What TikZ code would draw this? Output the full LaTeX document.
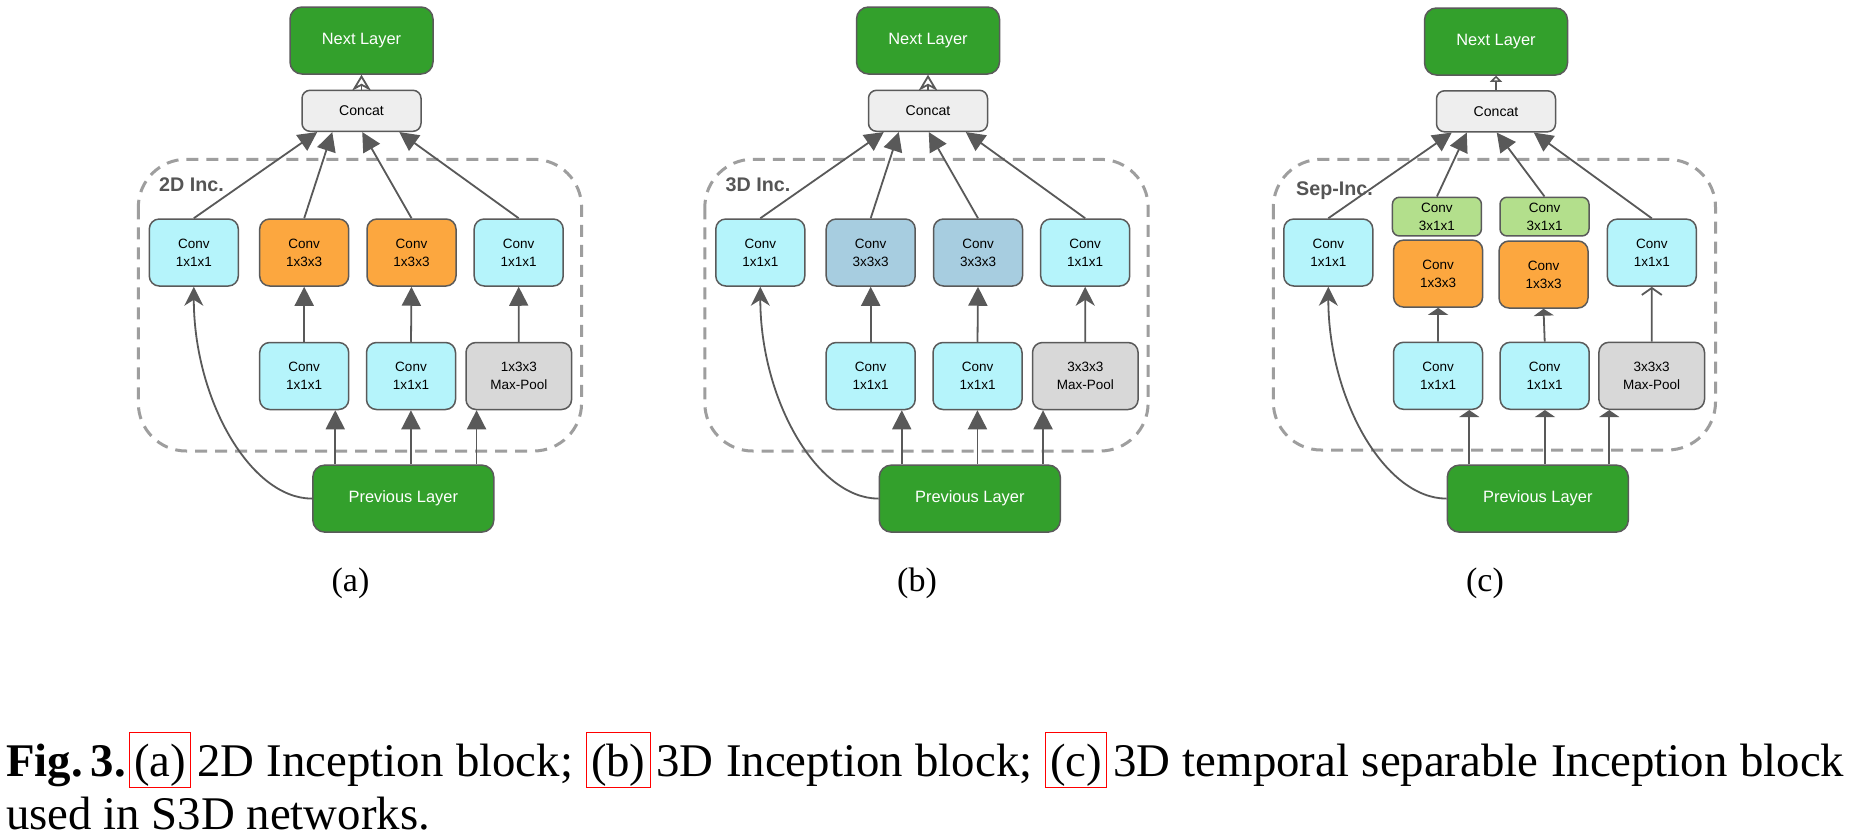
\documentclass[tikz,border=0pt]{standalone}
\usepackage{fontspec}
\setmainfont{Liberation Serif}
\newfontfamily\arialf{Liberation Sans}
\usetikzlibrary{arrows.meta,calc}
\definecolor{layergreen}{HTML}{33A02C}
\definecolor{edgegray}{HTML}{5A5A5A}
\definecolor{cyanfill}{HTML}{B5F4FB}
\definecolor{orangefill}{HTML}{FCA73F}
\definecolor{bluefill}{HTML}{A7CDE0}
\definecolor{limefill}{HTML}{B3DF8C}
\definecolor{poolfill}{HTML}{D8D8D8}
\definecolor{concatfill}{HTML}{EEEEEE}
\definecolor{dashgray}{HTML}{9E9E9E}
\definecolor{labelgray}{HTML}{555555}
\definecolor{arrowgray}{HTML}{595959}
\newcommand\redframe[1]{{\setlength{\fboxsep}{1pt}\setlength{\fboxrule}{1pt}\color{red}\fbox{\color{black}\kern3pt\rule[-9pt]{0pt}{51pt}#1\kern3pt}}}
\tikzset{
 blk/.style={draw=edgegray, line width=1.5pt, rounded corners=10pt, inner sep=0pt, minimum width=89pt, minimum height=67pt, align=center, font=\arialf\fontsize{13.5}{17.7}\selectfont},
 convc/.style={blk, fill=cyanfill},
 convo/.style={blk, fill=orangefill},
 convb/.style={blk, fill=bluefill},
 poolbox/.style={blk, fill=poolfill, minimum width=105.6pt},
 sepbox/.style={blk, fill=limefill, minimum height=38.7pt, rounded corners=7pt},
 layer/.style={draw=edgegray, line width=1.5pt, fill=layergreen, rounded corners=12pt, text=white, font=\arialf\fontsize{16.4}{20}\selectfont, minimum width=143pt, minimum height=67pt, inner sep=0pt},
 prevlayer/.style={layer, minimum width=181pt},
 concatbox/.style={draw=edgegray, line width=1.5pt, fill=concatfill, rounded corners=8pt, minimum width=119pt, minimum height=41pt, inner sep=0pt, font=\arialf\fontsize{14.1}{17}\selectfont},
 incframe/.style={draw=dashgray, line width=3pt, dash pattern=on 12pt off 8pt, rounded corners=48pt},
 inclabel/.style={anchor=base west, inner sep=0pt, text=labelgray, font=\arialf\bfseries\fontsize{19.7}{22}\selectfont},
 subcap/.style={anchor=base, inner sep=0pt, font=\fontsize{34}{40}\selectfont},
 link/.style={draw=arrowgray, line width=1.8pt},
 tri/.style={link, -{Triangle[length=19pt,width=19pt]}},
 stl/.style={link, -{Stealth[length=19pt,width=19pt,inset=6pt]}},
 opn/.style={link, -{Stealth[open,length=16pt,width=19pt,inset=5pt]}},
 flathead/.style={link, -{Triangle[length=7pt,width=20pt]}},
 barb/.style={link, -{Straight Barb[length=7pt,width=20pt]}},
 tinyopen/.style={link, -{Triangle[open,length=6pt,width=12pt]}},
 captext/.style={anchor=base west, inner sep=0pt, font=\fontsize{46.8}{56}\selectfont},
}
\begin{document}
\begin{tikzpicture}[x=1pt,y=-1pt]
\useasboundingbox (0,0) rectangle (1854,838);
\fill[white] (0,0) rectangle (1854,838);

% ---------------- panel (a)
\begin{scope}
\draw[incframe] (138.3,159.3) rectangle (581.6,451);
\node[layer] (aNext) at (361.5,40.5) {Next Layer};
\node[concatbox] (aCat) at (361.5,110.8) {Concat};
\node[inclabel] (aLab) at (159,191) {2D Inc.};
\node[convc] (a1) at (193.8,252.5) {Conv\\1x1x1};
\node[convo] (a2) at (304.2,252.5) {Conv\\1x3x3};
\node[convo] (a3) at (411.5,252.5) {Conv\\1x3x3};
\node[convc] (a4) at (518.7,252.5) {Conv\\1x1x1};
\node[convc] (a5) at (304.2,376) {Conv\\1x1x1};
\node[convc] (a6) at (411,376) {Conv\\1x1x1};
\node[poolbox] (a7) at (518.8,376) {1x3x3\\Max-Pool};
\node[prevlayer] (aPrev) at (403.3,498.6) {Previous Layer};
\node[subcap] (aSub) at (350.5,591) {(a)};
\draw[opn] (aCat.north) -- (aNext.south);
\draw[tri] (a1.north) -- ([xshift=16pt]aCat.south west);
\draw[tri] (a2.north) -- ([xshift=31pt]aCat.south west);
\draw[tri] (a3.north) -- ([xshift=61pt]aCat.south west);
\draw[tri] (a4.north) -- ([xshift=98pt]aCat.south west);
\draw[tri] (a5.north) -- (a2.south);
\draw[tri] (a6.north) -- (a3.south);
\draw[tri] (a7.north) -- (a4.south);
\coordinate (aP1) at ([xshift=23.2pt]aPrev.north west);
\coordinate (aP2) at ([xshift=98.9pt]aPrev.north west);
\coordinate (aP3) at ([xshift=164.5pt]aPrev.north west);
\draw[tri] (aP1) -- (aP1 |- a5.south);
\draw[tri] (aP2) -- (aP2 |- a6.south);
\draw[tri] (aP3) -- (aP3 |- a7.south);
\draw[stl] (aPrev.west) .. controls ($(aPrev.west)+(-62,0)$) and ($(a1.south)+(0,112)$) .. (a1.south);
\end{scope}

% ---------------- panel (b)
\begin{scope}[xshift=566.5pt]
\draw[incframe] (138.3,159.3) rectangle (581.6,451);
\node[layer] (bNext) at (361.5,40.5) {Next Layer};
\node[concatbox] (bCat) at (361.5,110.8) {Concat};
\node[inclabel] (bLab) at (159,191) {3D Inc.};
\node[convc] (b1) at (193.8,252.5) {Conv\\1x1x1};
\node[convb] (b2) at (304.2,252.5) {Conv\\3x3x3};
\node[convb] (b3) at (411.5,252.5) {Conv\\3x3x3};
\node[convc] (b4) at (518.7,252.5) {Conv\\1x1x1};
\node[convc] (b5) at (304.2,376) {Conv\\1x1x1};
\node[convc] (b6) at (411,376) {Conv\\1x1x1};
\node[poolbox] (b7) at (518.8,376) {3x3x3\\Max-Pool};
\node[prevlayer] (bPrev) at (403.3,498.6) {Previous Layer};
\node[subcap] (bSub) at (350.5,591) {(b)};
\draw[opn] (bCat.north) -- (bNext.south);
\draw[tri] (b1.north) -- ([xshift=16pt]bCat.south west);
\draw[tri] (b2.north) -- ([xshift=31pt]bCat.south west);
\draw[tri] (b3.north) -- ([xshift=61pt]bCat.south west);
\draw[tri] (b4.north) -- ([xshift=98pt]bCat.south west);
\draw[tri] (b5.north) -- (b2.south);
\draw[tri] (b6.north) -- (b3.south);
\draw[stl] (b7.north) -- (b4.south);
\coordinate (bP1) at ([xshift=23.2pt]bPrev.north west);
\coordinate (bP2) at ([xshift=98.9pt]bPrev.north west);
\coordinate (bP3) at ([xshift=164.5pt]bPrev.north west);
\draw[tri] (bP1) -- (bP1 |- b5.south);
\draw[tri] (bP2) -- (bP2 |- b6.south);
\draw[tri] (bP3) -- (bP3 |- b7.south);
\draw[stl] (bPrev.west) .. controls ($(bPrev.west)+(-62,0)$) and ($(b1.south)+(0,112)$) .. (b1.south);
\end{scope}

% ---------------- panel (c)
\begin{scope}[xshift=1134.5pt]
\draw[incframe] (138.8,159.3) rectangle (581,450);
\node[layer] (cNext) at (361.5,41.5) {Next Layer};
\node[concatbox] (cCat) at (361.5,111.3) {Concat};
\node[inclabel] (cLab) at (161.5,195) {Sep-Inc.};
\node[convc] (c1) at (193.8,252.5) {Conv\\1x1x1};
\node[sepbox] (c2g) at (302.4,216.6) {Conv\\3x1x1};
\node[convo] (c2o) at (303.6,273.6) {Conv\\1x3x3};
\node[sepbox] (c3g) at (410,216.6) {Conv\\3x1x1};
\node[convo] (c3o) at (409,274.5) {Conv\\1x3x3};
\node[convc] (c4) at (517.3,252.6) {Conv\\1x1x1};
\node[convc] (c5) at (303.5,375.8) {Conv\\1x1x1};
\node[convc] (c6) at (410.2,375.8) {Conv\\1x1x1};
\node[poolbox] (c7) at (517.2,375.8) {3x3x3\\Max-Pool};
\node[prevlayer] (cPrev) at (403.3,498.6) {Previous Layer};
\node[subcap] (cSub) at (350.5,591) {(c)};
\draw[tinyopen] (cCat.north) -- (cNext.south);
\draw[tri] (c1.north) -- ([xshift=16pt]cCat.south west);
\draw[tri] (c2g.north) -- ([xshift=31pt]cCat.south west);
\draw[tri] (c3g.north) -- ([xshift=61pt]cCat.south west);
\draw[tri] (c4.north) -- ([xshift=98pt]cCat.south west);
\draw[flathead] (c5.north) -- (c2o.south);
\draw[flathead] (c6.north) -- (c3o.south);
\draw[barb] (c7.north) -- (c4.south);
\coordinate (cP1) at ([xshift=22.7pt]cPrev.north west);
\coordinate (cP2) at ([xshift=98.4pt]cPrev.north west);
\coordinate (cP3) at ([xshift=162.7pt]cPrev.north west);
\draw[flathead] (cP1) -- (cP1 |- c5.south);
\draw[flathead] (cP2) -- (cP2 |- c6.south);
\draw[flathead] (cP3) -- (cP3 |- c7.south);
\draw[stl] (cPrev.west) .. controls ($(cPrev.west)+(-62,0)$) and ($(c1.south)+(0,112)$) .. (c1.south);
\end{scope}

% ---------------- caption
\node[captext] (capOne) at (6,776) {\makebox[1838pt][s]{\textbf{Fig.\,3.}\kern3.5pt\redframe{(a)}\kern6pt 2D Inception block; \redframe{(b)}\kern6pt 3D Inception block; \redframe{(c)}\kern6pt 3D temporal separable Inception block}};
\node[captext] (capTwo) at (6,829) {used in S3D networks.};
\end{tikzpicture}
\end{document}
